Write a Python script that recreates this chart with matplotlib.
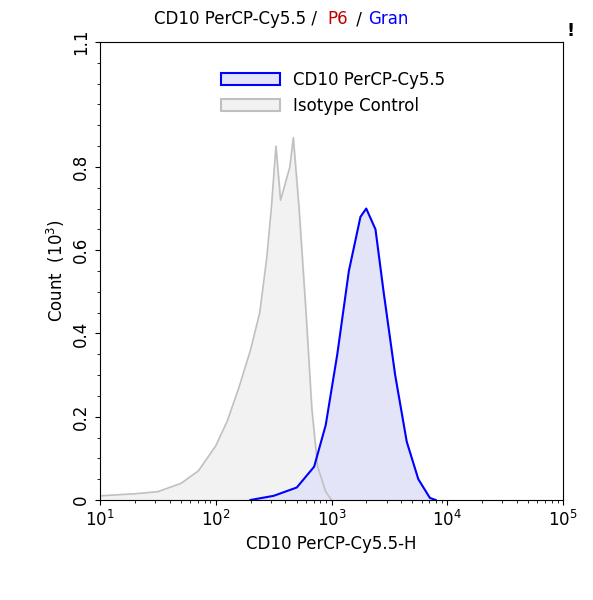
import numpy as np
import matplotlib.pyplot as plt
from matplotlib.patches import Patch
from matplotlib.ticker import MultipleLocator

iso_logx = [1.0,1.3,1.5,1.7,1.85,2.0,2.1,2.2,2.3,2.38,2.44,2.48,2.52,2.56,2.6,2.64,2.67,2.72,2.78,2.83,2.88,2.95,3.0]
iso_y    = [0.01,0.015,0.02,0.04,0.07,0.13,0.19,0.27,0.36,0.45,0.58,0.70,0.85,0.72,0.76,0.80,0.87,0.70,0.45,0.22,0.08,0.02,0.0]
cd_logx = [2.3,2.5,2.7,2.85,2.95,3.05,3.15,3.25,3.3,3.38,3.45,3.55,3.65,3.75,3.85,3.9]
cd_y    = [0.0,0.01,0.03,0.08,0.18,0.35,0.55,0.68,0.70,0.65,0.50,0.30,0.14,0.05,0.005,0.0]

fig = plt.figure(figsize=(5.93,6), dpi=100)
ax = fig.add_axes([100/593, 100/600, 463/593, 458/600])
ix = 10**np.array(iso_logx); cx = 10**np.array(cd_logx)
ax.fill_between(ix, iso_y, color='#f2f2f2')
ax.plot(ix, iso_y, color='#c0c0c0', lw=1.2)
ax.fill_between(cx, cd_y, color='#e4e4f8')
ax.plot(cx, cd_y, color='#0000ff', lw=1.5)
ax.set_xscale('log'); ax.set_xlim(10,1e5); ax.set_ylim(0,1.1)
ax.set_yticks([0,0.2,0.4,0.6,0.8,1.1])
ax.set_yticklabels(['0','0.2','0.4','0.6','0.8','1.1'], rotation=90, va='center')
ax.yaxis.set_minor_locator(MultipleLocator(0.05))
ax.tick_params(labelsize=12)
ax.set_xticks([10,100,1e3,1e4,1e5])
ax.set_xticklabels([r'$10^1$',r'$10^2$',r'$10^3$',r'$10^4$',r'$10^5$'])
ax.set_xlabel('CD10 PerCP-Cy5.5-H', fontsize=12)
ax.set_ylabel(r'Count  $(10^3)$', fontsize=12)
fig.text(0.26, 0.96, 'CD10 PerCP-Cy5.5 / ', fontsize=12, color='black')
fig.text(0.552, 0.96, 'P6', fontsize=12, color='#c00000')
fig.text(0.592, 0.96, ' / ', fontsize=12, color='black')
fig.text(0.62, 0.96, 'Gran', fontsize=12, color='#0000ff')
fig.text(0.955, 0.94, '!', fontsize=13, fontweight='bold')
handles=[Patch(facecolor='#e4e4f8', edgecolor='#0000ff', lw=1.5, label='CD10 PerCP-Cy5.5'),
         Patch(facecolor='#f2f2f2', edgecolor='#c0c0c0', lw=1.5, label='Isotype Control')]
ax.legend(handles=handles, loc='upper left', bbox_to_anchor=(0.23,0.97), frameon=False, fontsize=12, handlelength=3.5)
fig.savefig('out.png', dpi=100)
